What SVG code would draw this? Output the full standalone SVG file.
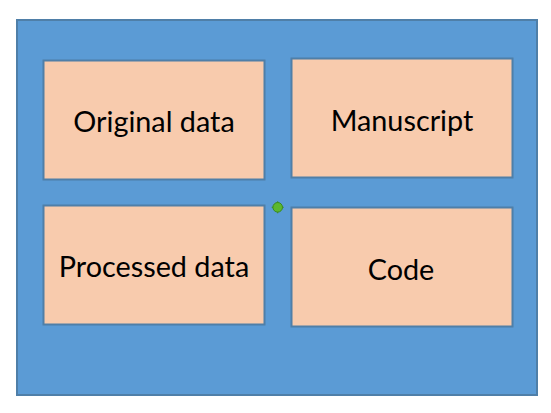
<svg xmlns="http://www.w3.org/2000/svg" width="551" height="413" viewBox="0 0 551 413">
<style>
.box{fill:#F8CBAD;stroke:#4F7FA8;stroke-width:2}
.lbl{font-family:Lato,"Open Sans",sans-serif;font-size:28.8px;fill:#000;text-anchor:middle}
</style>
<rect width="551" height="413" fill="#fff"/>
<g id="container"><rect x="17" y="20" width="520" height="375" fill="#5B9BD5" stroke="#4F7FA8" stroke-width="2"/></g>
<g id="original"><rect class="box" x="43.5" y="60.5" width="221" height="119"/><text class="lbl" x="154" y="132">Original data</text></g>
<g id="manuscript"><rect class="box" x="291.5" y="58.5" width="221" height="119"/><text class="lbl" x="402" y="131">Manuscript</text></g>
<g id="processed"><rect class="box" x="43.5" y="205.5" width="221" height="119"/><text class="lbl" x="154" y="277">Processed data</text></g>
<g id="code"><rect class="box" x="291.5" y="207.5" width="221" height="119"/><text class="lbl" x="401" y="280">Code</text></g>
<g id="connectors"><line x1="271.7" y1="207.3" x2="283.7" y2="207.3" stroke="#3A8A1E" stroke-width="1"/><line x1="277.7" y1="201.3" x2="277.7" y2="213.3" stroke="#3A8A1E" stroke-width="1"/><circle cx="277.7" cy="207.3" r="4.8" fill="#5CB82E" stroke="#3A8A1E" stroke-width="1"/></g>
</svg>
